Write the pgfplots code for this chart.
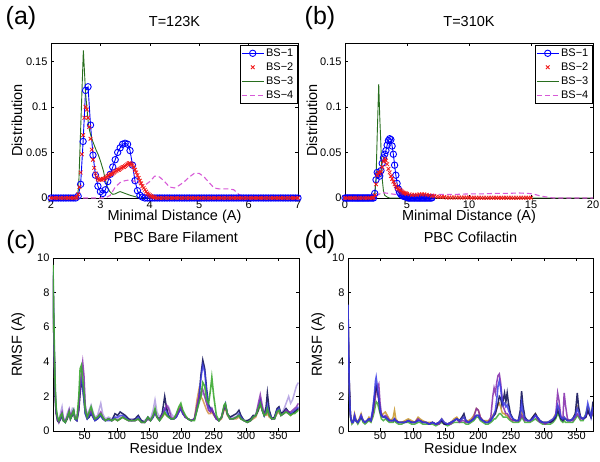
\documentclass[border=0pt]{standalone}
\usepackage{fontspec}
\setmainfont{Liberation Sans}
\usepackage{pgfplots}
\pgfplotsset{compat=1.18}
\usepackage{pgfplotstable}

\definecolor{bsblue}{rgb}{0,0,1}
\definecolor{bsred}{rgb}{0.95,0.1,0.1}
\definecolor{bsgreen}{RGB}{40,110,30}
\definecolor{bsmag}{RGB}{215,90,215}
\definecolor{cnavy}{RGB}{20,20,90}
\definecolor{cblue}{RGB}{60,60,230}
\definecolor{cpurple}{RGB}{130,40,170}
\definecolor{clav}{RGB}{175,155,225}
\definecolor{corange}{RGB}{210,140,60}
\definecolor{cgreen}{RGB}{60,170,50}
\definecolor{cgold}{RGB}{200,150,40}

\pgfplotstableread{
x n u p l o g
1 9.0 9.2 8.8 9.4 9.0 9.6
2 6.0 6.5 6.2 6.8 6.0 7.0
3 4.0 4.5 4.2 4.8 4.2 5.0
4 2.5 2.8 2.6 3.0 2.6 3.2
5 1.5 1.7 1.6 1.9 1.6 2.0
6 1.0 1.1 1.1 1.2 1.0 1.3
8 0.6 0.65 0.7 0.75 0.6 0.8
10 0.5 0.55 0.5 0.6 0.55 0.6
13 0.7 0.8 0.9 1.1 0.8 0.9
15 0.9 1.0 1.1 1.4 0.9 1.0
17 0.6 0.6 0.7 0.8 0.6 0.6
20 0.5 0.5 0.55 0.6 0.5 0.5
23 0.7 0.8 0.8 1.0 0.7 0.8
26 1.1 1.0 1.2 1.3 1.0 1.1
28 0.7 0.7 0.8 0.9 0.7 0.7
31 0.9 1.0 1.1 1.3 1.0 1.0
33 1.1 1.2 1.2 1.2 1.1 1.2
35 0.7 0.7 0.8 0.8 0.7 0.7
38 0.6 0.6 0.7 0.7 0.6 0.7
41 1.2 1.5 1.3 1.5 1.4 2.0
43 2.2 2.8 2.6 2.5 2.4 3.6
45 2.8 3.0 3.4 3.2 2.8 3.8
47 2.6 2.4 4.0 3.6 2.5 3.0
49 1.8 1.8 3.2 2.8 1.9 2.2
51 1.0 1.0 1.4 1.5 1.1 1.2
54 0.7 0.7 0.8 0.9 0.8 0.8
57 0.8 0.9 1.0 1.2 1.0 1.1
60 1.0 1.1 1.2 1.5 1.1 1.4
63 0.8 0.8 0.9 1.1 0.9 1.0
66 0.6 0.6 0.7 0.8 0.7 0.7
70 0.7 0.7 0.8 0.9 0.7 0.8
75 0.9 0.9 1.1 1.6 1.0 1.0
78 0.7 0.7 0.8 1.0 0.8 0.8
82 0.6 0.6 0.6 0.7 0.6 0.6
87 0.7 0.6 0.7 0.8 0.7 0.7
92 0.6 0.6 0.6 0.7 0.6 0.6
97 1.0 0.8 0.7 0.8 0.7 0.7
101 0.9 0.8 0.6 0.7 0.6 0.6
105 1.1 0.9 0.7 0.8 0.7 0.7
109 1.0 0.9 0.8 0.9 0.8 0.8
113 0.9 0.8 0.7 0.8 0.7 0.7
118 0.7 0.6 0.6 0.7 0.6 0.6
123 0.6 0.6 0.6 0.7 0.6 0.6
128 0.7 0.6 0.6 0.7 0.6 0.6
133 0.9 0.8 0.7 0.7 0.7 0.7
138 0.6 0.5 0.5 0.6 0.5 0.5
143 0.5 0.5 0.5 0.6 0.5 0.5
148 0.8 0.7 0.7 0.8 0.7 0.8
152 0.6 0.6 0.6 0.7 0.6 0.6
156 0.8 0.8 0.9 1.2 0.8 0.9
159 1.1 1.1 1.2 1.8 1.1 1.3
162 0.8 0.8 0.8 1.1 0.8 0.8
166 0.7 0.6 0.7 0.8 0.6 0.6
170 1.0 0.9 0.9 1.0 0.8 0.8
174 2.0 1.3 1.2 1.3 1.0 1.1
177 1.3 1.1 1.5 1.2 0.9 0.9
180 0.9 0.8 1.3 1.4 0.8 0.8
184 0.7 0.7 0.8 1.0 0.7 0.7
188 0.7 0.7 0.7 0.8 0.7 0.7
192 0.8 0.8 0.9 0.9 0.9 1.0
196 1.1 1.1 1.2 1.2 1.3 1.4
199 1.3 1.3 1.4 1.4 1.4 1.6
202 1.0 1.0 1.1 1.1 1.1 1.2
206 0.8 0.8 0.8 0.8 0.8 0.9
210 0.7 0.7 0.7 0.7 0.7 0.7
215 0.6 0.6 0.6 0.6 0.6 0.6
220 0.7 0.7 0.7 0.7 0.7 0.6
224 1.2 1.3 1.5 1.4 1.8 1.2
227 1.8 2.0 2.0 1.8 2.4 1.6
230 3.2 3.0 2.2 2.0 2.0 2.0
233 4.1 3.8 2.4 2.2 1.8 2.8
236 3.6 3.4 2.0 2.0 1.5 2.6
239 2.4 2.2 1.6 1.6 1.2 1.8
242 1.5 1.4 1.2 1.2 1.0 1.6
245 1.3 1.2 1.1 1.1 1.0 2.4
247 1.2 1.3 1.3 1.2 1.1 3.1
250 1.0 1.0 1.0 1.0 0.9 2.0
254 0.7 0.7 0.7 0.7 0.7 0.9
258 0.6 0.6 0.6 0.6 0.6 0.6
262 0.8 0.8 0.8 0.8 0.7 0.8
266 1.3 1.4 1.4 1.3 1.2 1.5
268 1.5 1.6 1.5 1.4 1.3 1.6
271 1.0 1.0 1.0 1.0 0.9 1.0
275 0.8 0.7 0.7 0.8 0.7 0.7
280 0.9 0.7 0.7 0.8 0.7 0.7
285 1.0 0.8 0.8 0.8 0.7 0.8
289 1.2 1.0 0.9 0.9 0.8 0.9
292 0.9 0.8 0.7 0.8 0.7 0.7
297 0.6 0.6 0.6 0.6 0.6 0.6
302 0.6 0.5 0.5 0.6 0.5 0.5
307 0.7 0.6 0.6 0.6 0.6 0.6
311 0.9 0.8 0.8 0.8 0.7 0.8
315 0.9 0.9 0.9 0.9 0.8 0.9
319 1.2 1.4 1.6 1.3 1.2 1.3
322 1.7 1.8 2.1 1.7 1.5 1.6
325 1.2 1.3 1.5 1.3 1.2 1.2
328 0.9 0.9 1.0 0.9 0.9 0.9
331 1.4 1.1 1.0 1.0 0.9 1.0
333 2.2 1.5 1.2 1.2 1.0 1.3
336 1.2 1.0 0.9 0.9 0.8 0.9
340 0.7 0.7 0.7 0.7 0.7 0.7
344 0.8 0.7 0.7 0.8 0.7 0.7
348 1.3 1.2 1.1 1.2 1.0 1.1
351 1.4 1.3 1.2 1.3 1.1 1.2
354 1.0 0.9 0.9 1.0 0.9 0.9
358 1.1 1.0 1.0 1.2 1.0 1.0
362 1.3 1.2 1.2 1.6 1.1 1.1
366 1.1 1.0 1.1 2.0 1.0 1.0
369 1.0 1.0 1.1 1.6 0.9 0.9
372 1.0 1.1 1.2 1.8 1.0 1.0
375 1.1 1.2 1.3 2.2 1.1 1.0
378 1.2 1.3 1.4 2.6 1.2 1.1
381 1.3 1.4 1.6 2.8 1.3 1.2
}\tabc

\pgfplotstableread{
x o g p n u
1 7.0 6.8 7.0 7.2 7.3
2 4.4 4.0 4.3 4.5 4.5
3 2.6 2.3 2.5 2.6 2.6
4 1.4 1.2 1.3 1.4 1.4
5 0.8 0.7 0.8 0.8 0.8
7 0.5 0.4 0.5 0.5 0.5
9 0.6 0.5 0.5 0.5 0.5
11 1.0 0.8 0.9 0.8 0.9
13 0.7 0.6 0.6 0.6 0.6
16 0.5 0.4 0.5 0.5 0.5
19 0.8 0.6 0.7 0.7 0.7
21 1.0 0.8 0.9 0.8 0.9
24 0.6 0.5 0.6 0.6 0.6
27 0.5 0.4 0.5 0.5 0.5
30 0.6 0.5 0.6 0.6 0.6
33 0.8 0.6 0.7 0.7 0.7
36 0.6 0.5 0.6 0.6 0.6
39 1.0 0.8 1.0 1.2 1.3
41 1.6 1.1 1.5 1.9 2.0
43 2.2 1.5 2.0 2.4 2.9
44 2.4 1.7 2.3 2.6 3.1
46 2.3 1.6 2.5 2.3 2.5
48 1.8 1.3 2.7 1.8 1.9
50 1.2 1.0 1.6 1.1 1.2
52 0.9 0.7 1.0 0.9 0.9
55 1.0 0.6 0.8 0.8 0.8
58 1.1 0.7 0.9 0.8 0.8
61 0.9 0.6 0.8 0.7 0.7
64 0.7 0.5 0.6 0.6 0.6
67 0.6 0.5 0.6 0.6 0.6
70 0.8 0.5 0.6 0.6 0.6
72 1.2 0.6 0.7 0.7 0.7
74 0.7 0.5 0.6 0.6 0.6
78 0.5 0.4 0.5 0.5 0.5
83 0.5 0.4 0.5 0.5 0.5
88 0.6 0.5 0.5 0.5 0.5
93 0.7 0.5 0.6 0.6 0.6
98 0.6 0.4 0.5 0.5 0.5
103 0.5 0.4 0.5 0.5 0.5
108 0.8 0.5 0.7 0.6 0.6
111 0.7 0.5 0.6 0.6 0.6
115 0.6 0.4 0.5 0.5 0.5
120 0.5 0.4 0.5 0.5 0.5
125 0.5 0.4 0.4 0.4 0.4
130 0.5 0.4 0.5 0.5 0.5
135 0.4 0.3 0.4 0.4 0.4
140 0.5 0.4 0.4 0.5 0.5
144 0.7 0.5 0.6 0.6 0.7
148 0.5 0.4 0.4 0.4 0.5
153 0.4 0.3 0.4 0.4 0.4
158 0.5 0.4 0.4 0.5 0.5
163 0.7 0.5 0.6 0.6 0.6
167 0.8 0.5 0.7 0.7 0.7
171 0.6 0.5 0.5 0.6 0.6
175 0.7 0.5 0.6 0.8 0.7
178 0.8 0.5 0.6 1.0 0.8
181 0.6 0.4 0.5 0.6 0.6
185 0.6 0.4 0.5 0.5 0.5
189 0.7 0.5 0.6 0.6 0.6
193 0.9 0.6 0.8 0.7 0.7
197 1.3 0.8 1.3 0.9 0.9
200 1.2 0.8 1.2 0.9 0.9
203 0.8 0.6 0.8 0.7 0.7
207 0.6 0.5 0.6 0.6 0.6
211 0.6 0.4 0.5 0.5 0.5
215 0.6 0.4 0.5 0.5 0.5
219 0.7 0.5 0.8 0.6 0.6
222 0.9 0.6 2.0 0.8 0.8
224 1.0 0.7 2.5 0.9 1.0
226 1.1 0.7 2.2 1.0 1.2
228 1.3 0.8 2.8 1.3 1.8
230 1.5 0.9 3.2 1.6 2.6
232 1.6 1.0 3.3 2.0 2.9
234 1.4 1.0 2.8 1.9 2.5
236 1.1 0.9 2.0 1.5 1.8
238 1.0 0.8 1.4 1.8 1.5
240 1.0 0.8 1.2 2.2 1.6
242 0.9 0.8 1.0 1.7 1.4
244 0.9 0.8 1.0 2.2 1.5
246 0.8 0.7 0.9 1.6 1.2
249 0.7 0.6 0.7 1.0 0.9
253 0.6 0.5 0.6 0.7 0.7
257 0.6 0.5 0.6 0.6 0.6
261 0.6 0.5 0.6 0.6 0.6
264 0.8 0.6 0.7 1.2 0.9
266 1.1 0.8 0.9 2.3 1.6
268 0.9 0.7 0.8 1.5 1.1
271 0.7 0.5 0.6 0.8 0.7
275 0.6 0.5 0.6 0.6 0.6
279 0.6 0.5 0.6 0.6 0.6
283 0.8 0.6 0.7 0.8 0.7
287 1.0 0.7 0.9 1.0 0.9
290 0.8 0.6 0.7 0.8 0.8
294 0.6 0.5 0.5 0.6 0.6
298 0.5 0.4 0.5 0.5 0.5
302 0.5 0.4 0.4 0.5 0.5
306 0.5 0.4 0.5 0.5 0.5
310 0.6 0.4 0.5 0.5 0.6
314 0.7 0.5 0.6 0.6 0.7
318 1.0 0.7 0.9 0.8 0.9
321 1.4 1.0 2.2 1.2 1.5
323 1.2 0.9 1.8 1.0 1.3
326 0.8 0.6 0.8 0.7 0.8
329 0.7 0.5 0.7 0.6 0.7
331 0.8 0.6 2.2 0.7 0.8
333 0.7 0.5 1.5 0.7 0.7
336 0.6 0.5 0.7 0.6 0.6
340 0.6 0.5 0.6 0.6 0.6
344 0.7 0.5 0.6 0.7 0.7
348 1.0 0.7 0.8 1.0 0.9
351 1.4 0.9 1.0 2.2 1.3
353 1.2 0.8 0.9 1.4 1.1
356 0.8 0.6 0.7 0.8 0.8
360 0.7 0.6 0.7 0.7 0.7
364 0.9 1.0 0.8 0.8 0.9
367 1.3 1.4 1.1 1.2 1.6
369 1.1 1.2 1.0 1.0 1.3
372 0.8 0.8 0.8 0.8 0.8
375 1.2 1.0 1.1 1.7 1.4
}\tabd

\pgfplotsset{
  myax/.style={scale only axis, tick align=inside, major tick length=3pt,
    /pgf/number format/assume math mode=true,
    tick label style={font=\fontsize{11}{12}\selectfont},
    xticklabel style={inner sep=1pt},
    label style={font=\fontsize{14.5}{17}\selectfont},
    title style={font=\fontsize{14.5}{17}\selectfont, anchor=center},
    axis line style={line width=0.6pt},
    every tick/.style={black, line width=0.5pt}},
  distax/.style={myax, width=247pt, height=155pt, clip=false,
    xticklabel style={inner sep=2.5pt},
    ymin=0, ymax=0.17, ytick={0,0.05,0.1,0.15}, yticklabels={0,0.05,0.1,0.15},
    scaled y ticks=false,
    xlabel={Minimal Distance (A)}, ylabel={Distribution},
    xlabel style={at={(axis description cs:0.5,-0.122)}, anchor=center},
    legend image code/.code={\draw[mark repeat=2,mark phase=2,##1] plot coordinates {(0cm,0cm) (0.38cm,0cm) (0.76cm,0cm)};},
    legend style={at={(1,1)}, anchor=north east, xshift=-1pt, yshift=-2pt,
      font=\fontsize{11}{12}\selectfont, inner sep=1.5pt, row sep=0.8pt,
      draw=black, cells={anchor=west}}},
  rmsfax/.style={myax, width=246pt, height=173pt,
    ymin=0, ymax=10, ytick={0,2,4,6,8,10},
    xtick={50,100,150,200,250,300,350},
    xlabel={Residue Index}, ylabel={RMSF (A)},
    xlabel style={at={(axis description cs:0.5,-0.1)}, anchor=center},
    title style={at={(0.5,1.087)}}},
}

\begin{document}
\begin{tikzpicture}
\path[use as bounding box] (0,0) rectangle (600pt,462pt);

% ---------------- (a)
\begin{axis}[distax, at={(51pt,264pt)}, anchor=south west,
  xmin=2, xmax=7, xtick={2,3,4,5,6,7},
  title={T=123K}, title style={at={(0.5,1.097)}},
  ylabel style={at={(axis description cs:-0.138,0.5)}, anchor=center}]
\addplot[bsblue, line width=0.9pt, mark=o, mark size=3.2pt, mark options={line width=0.9pt}] coordinates {
(2.00,0)(2.05,0)(2.10,0)(2.15,0)(2.20,0)(2.25,0)(2.30,0)(2.35,0)(2.40,0)(2.45,0)(2.50,0)
(2.55,0.002)(2.60,0.015)(2.65,0.062)(2.70,0.118)(2.75,0.122)(2.80,0.080)(2.85,0.047)(2.90,0.025)
(2.95,0.013)(3.00,0.007)(3.05,0.005)(3.10,0.009)(3.15,0.018)(3.20,0.026)(3.25,0.034)(3.30,0.042)
(3.35,0.050)(3.40,0.055)(3.45,0.059)(3.50,0.060)(3.55,0.059)(3.60,0.052)(3.65,0.036)(3.70,0.019)
(3.75,0.008)(3.80,0.003)(3.85,0.001)(3.90,0)(3.95,0)(4.00,0)
(4.05,0)(4.10,0)(4.15,0)(4.20,0)(4.25,0)(4.30,0)(4.35,0)(4.40,0)(4.45,0)(4.50,0)
(4.55,0)(4.60,0)(4.65,0)(4.70,0)(4.75,0)(4.80,0)(4.85,0)(4.90,0)(4.95,0)(5.00,0)
(5.05,0)(5.10,0)(5.15,0)(5.20,0)(5.25,0)(5.30,0)(5.35,0)(5.40,0)(5.45,0)(5.50,0)
(5.55,0)(5.60,0)(5.65,0)(5.70,0)(5.75,0)(5.80,0)(5.85,0)(5.90,0)(5.95,0)(6.00,0)
(6.05,0)(6.10,0)(6.15,0)(6.20,0)(6.25,0)(6.30,0)(6.35,0)(6.40,0)(6.45,0)(6.50,0)
(6.55,0)(6.60,0)(6.65,0)(6.70,0)(6.75,0)(6.80,0)(6.85,0)(6.90,0)(6.95,0)(7.00,0)};
\addlegendentry{BS−1}
\addplot[bsred, only marks, mark=x, mark size=2.6pt, mark options={line width=0.8pt}] coordinates {
(2.00,0)(2.05,0)(2.10,0)(2.15,0)(2.20,0)(2.25,0)(2.30,0)(2.35,0)(2.40,0)(2.45,0)
(2.500,0)(2.525,0.001)(2.550,0.004)(2.575,0.012)(2.600,0.028)(2.625,0.048)(2.650,0.069)(2.675,0.088)
(2.700,0.100)(2.725,0.097)(2.750,0.088)(2.775,0.078)(2.800,0.065)(2.825,0.053)(2.850,0.042)(2.875,0.033)
(2.900,0.027)(2.925,0.023)(2.950,0.021)(2.975,0.020)(3.000,0.020)(3.025,0.020)(3.050,0.021)(3.075,0.021)
(3.100,0.022)(3.125,0.023)(3.150,0.024)(3.175,0.025)(3.200,0.026)(3.225,0.026)(3.250,0.027)(3.275,0.028)
(3.300,0.029)(3.325,0.030)(3.350,0.031)(3.375,0.031)(3.400,0.032)(3.425,0.033)(3.450,0.034)(3.475,0.034)
(3.500,0.035)(3.525,0.036)(3.550,0.037)(3.575,0.038)(3.600,0.038)(3.625,0.037)(3.650,0.036)(3.675,0.034)
(3.700,0.031)(3.725,0.028)(3.750,0.025)(3.775,0.022)(3.800,0.019)(3.825,0.016)(3.850,0.013)(3.875,0.011)
(3.900,0.009)(3.925,0.007)(3.950,0.005)(3.975,0.004)(4.000,0.003)(4.025,0.002)(4.050,0.0015)(4.075,0.001)
(4.100,0.0005)
(4.15,0)(4.20,0)(4.25,0)(4.30,0)(4.35,0)(4.40,0)(4.45,0)(4.50,0)
(4.55,0)(4.60,0)(4.65,0)(4.70,0)(4.75,0)(4.80,0)(4.85,0)(4.90,0)(4.95,0)(5.00,0)
(5.05,0)(5.10,0)(5.15,0)(5.20,0)(5.25,0)(5.30,0)(5.35,0)(5.40,0)(5.45,0)(5.50,0)
(5.55,0)(5.60,0)(5.65,0)(5.70,0)(5.75,0)(5.80,0)(5.85,0)(5.90,0)(5.95,0)(6.00,0)
(6.05,0)(6.10,0)(6.15,0)(6.20,0)(6.25,0)(6.30,0)(6.35,0)(6.40,0)(6.45,0)(6.50,0)
(6.55,0)(6.60,0)(6.65,0)(6.70,0)(6.75,0)(6.80,0)(6.85,0)(6.90,0)(6.95,0)(7.00,0)};
\addlegendentry{BS−2}
\addplot[bsgreen, line width=0.9pt] coordinates {
(2,0)(2.5,0)(2.53,0.001)(2.56,0.012)(2.60,0.075)(2.655,0.162)(2.70,0.115)(2.75,0.085)(2.78,0.074)
(2.82,0.066)(2.86,0.060)(2.91,0.053)(2.96,0.047)(3.01,0.039)(3.06,0.030)(3.10,0.020)(3.14,0.012)
(3.19,0.007)(3.25,0.004)(3.30,0.0045)(3.35,0.006)(3.40,0.007)(3.45,0.006)(3.50,0.005)(3.60,0.003)
(3.70,0.0015)(3.80,0)(7,0)};
\addlegendentry{BS−3}
\addplot[bsmag, line width=1.1pt, dash pattern=on 5pt off 3pt] coordinates {
(2,0)(3.1,0)(3.2,0.003)(3.3,0.012)(3.4,0.017)(3.5,0.019)(3.6,0.020)(3.7,0.018)(3.8,0.015)(3.9,0.014)
(4.0,0.018)(4.1,0.024)(4.2,0.023)(4.3,0.018)(4.4,0.012)(4.5,0.011)(4.6,0.014)(4.7,0.018)(4.8,0.023)
(4.9,0.027)(5.0,0.027)(5.1,0.023)(5.2,0.017)(5.3,0.011)(5.4,0.010)(5.5,0.010)(5.6,0.010)(5.7,0.009)
(5.8,0.004)(5.9,0.001)(6.0,0)(7,0)};
\addlegendentry{BS−4}
\end{axis}

% ---------------- (b)
\begin{axis}[distax, at={(345pt,264pt)}, anchor=south west, width=248pt,
  xmin=0, xmax=20, xtick={0,5,10,15,20},
  title={T=310K}, title style={at={(0.5,1.097)}},
  ylabel style={at={(axis description cs:-0.133,0.5)}, anchor=center}]
\addplot[bsblue, line width=0.9pt, mark=o, mark size=3.2pt, mark options={line width=0.9pt}] coordinates {
(0.0,0)(0.1,0)(0.2,0)(0.3,0)(0.4,0)(0.5,0)(0.6,0)(0.7,0)(0.8,0)(0.9,0)(1.0,0)(1.1,0)
(1.2,0)(1.3,0)(1.4,0)(1.5,0)(1.6,0)(1.7,0)(1.8,0)(1.9,0)(2.0,0)(2.1,0)(2.2,0)(2.3,0)
(2.4,0.005)(2.5,0.020)(2.6,0.028)(2.7,0.026)(2.8,0.024)(2.9,0.030)(3.0,0.038)(3.1,0.044)(3.2,0.048)
(3.3,0.052)(3.4,0.058)(3.5,0.063)(3.6,0.065)(3.7,0.064)(3.8,0.057)(3.9,0.048)(4.0,0.036)(4.1,0.025)
(4.2,0.016)(4.3,0.010)(4.4,0.006)(4.5,0.004)(4.6,0.003)(4.7,0.002)(4.8,0.0015)(4.9,0.001)(5.0,0.001)
(5.1,0)(5.2,0)(5.3,0)(5.4,0)(5.5,0)(5.6,0)(5.7,0)(5.8,0)(5.9,0)(6.0,0)
(6.1,0)(6.2,0)(6.3,0)(6.4,0)(6.5,0)(6.6,0)(6.7,0)(6.8,0)(6.9,0)(7.0,0)};
\addlegendentry{BS−1}
\addplot[bsred, only marks, mark=x, mark size=2.6pt, mark options={line width=0.8pt}] coordinates {
(0.0,0)(0.2,0)(0.4,0)(0.6,0)(0.8,0)(1.0,0)(1.2,0)(1.4,0)(1.6,0)(1.8,0)(2.0,0)(2.2,0)
(2.3,0.0005)(2.4,0.003)(2.5,0.015)(2.6,0.025)(2.7,0.028)(2.8,0.027)(2.9,0.029)(3.0,0.034)(3.1,0.040)
(3.2,0.043)(3.3,0.041)(3.4,0.037)(3.5,0.032)(3.6,0.028)(3.7,0.024)(3.8,0.021)(3.9,0.018)(4.0,0.015)
(4.1,0.013)(4.2,0.011)(4.3,0.010)(4.4,0.009)(4.5,0.008)(4.6,0.007)(4.7,0.006)(4.8,0.0055)(4.9,0.005)
(5.0,0.0045)(5.2,0.004)(5.4,0.0035)(5.6,0.0035)(5.8,0.0035)(6.0,0.004)(6.2,0.004)(6.4,0.004)
(6.6,0.0035)(6.8,0.003)(7.0,0.0025)(7.2,0.002)(7.4,0.0015)(7.6,0.0012)(7.8,0.001)(8.0,0.001)
(8.2,0.0005)(8.4,0.0005)(8.6,0.0005)(8.8,0.0005)(9.0,0.0005)(9.2,0.0005)(9.4,0.0005)(9.6,0.0005)
(9.8,0.0005)(10.0,0.0005)(10.2,0.0003)(10.4,0.0003)(10.6,0.0003)(10.8,0.0003)(11.0,0.0003)
(11.2,0.0003)(11.4,0.0003)(11.6,0.0003)(11.8,0.0003)(12.0,0.0003)(12.2,0.0003)(12.4,0.0003)
(12.6,0.0003)(12.8,0.0003)(13.0,0.0003)(13.2,0.0003)(13.4,0.0003)(13.6,0.0003)(13.8,0.0003)
(14.0,0.0003)(14.2,0.0003)(14.4,0.0003)(14.6,0.0003)(14.8,0.0003)(15.0,0.0003)};
\addlegendentry{BS−2}
\addplot[bsgreen, line width=0.9pt] coordinates {
(0,0)(2.3,0)(2.4,0.003)(2.5,0.02)(2.6,0.07)(2.72,0.125)(2.8,0.09)(2.88,0.063)(2.95,0.035)(3.0,0.021)
(3.1,0.008)(3.2,0.003)(3.4,0.001)(3.6,0)(20,0)};
\addlegendentry{BS−3}
\addplot[bsmag, line width=1.1pt, dash pattern=on 5pt off 3pt] coordinates {
(0,0)(2.4,0)(2.6,0.003)(3.0,0.006)(4.0,0.004)(5.0,0.003)(6.0,0.003)(7.0,0.004)(8.0,0.004)(9.0,0.004)
(10.0,0.0045)(11.0,0.0045)(12.0,0.005)(13.0,0.005)(14.0,0.0055)(14.8,0.005)(15.3,0.004)(15.8,0.002)
(16.3,0.001)(16.8,0)(20,0)};
\addlegendentry{BS−4}
\end{axis}

% ---------------- (c)
\begin{axis}[rmsfax, at={(53pt,31pt)}, anchor=south west,
  xmin=1, xmax=382, title={PBC Bare Filament},
  ylabel style={at={(axis description cs:-0.142,0.5)}, anchor=center}]
\addplot[clav, line width=1.5pt, opacity=0.85] table[x=x,y=l]{\tabc};
\addplot[corange, line width=1.5pt, opacity=0.8] table[x=x,y=o]{\tabc};
\addplot[cnavy, line width=1.5pt, opacity=0.9] table[x=x,y=n]{\tabc};
\addplot[cblue, line width=1.5pt, opacity=0.8] table[x=x,y=u]{\tabc};
\addplot[cpurple, line width=1.5pt, opacity=0.8] table[x=x,y=p]{\tabc};
\addplot[cgreen, line width=1.6pt, opacity=0.9] table[x=x,y=g]{\tabc};
\end{axis}

% ---------------- (d)
\begin{axis}[rmsfax, at={(348pt,31pt)}, anchor=south west, width=245pt,
  xmin=1, xmax=375, title={PBC Cofilactin},
  ylabel style={at={(axis description cs:-0.122,0.5)}, anchor=center}]
\addplot[cgreen, line width=1.5pt, opacity=0.85] table[x=x,y=g]{\tabd};
\addplot[cgold, line width=1.5pt, opacity=0.85] table[x=x,y=o]{\tabd};
\addplot[cpurple, line width=1.5pt, opacity=0.85] table[x=x,y=p]{\tabd};
\addplot[cnavy, line width=1.5pt, opacity=0.9] table[x=x,y=n]{\tabd};
\addplot[cblue, line width=1.6pt, opacity=0.85] table[x=x,y=u]{\tabd};
\end{axis}

% panel letters
\node[font=\fontsize{25}{28}\selectfont] at (21pt,444pt) {(a)};
\node[font=\fontsize{25}{28}\selectfont] at (320pt,444pt) {(b)};
\node[font=\fontsize{25}{28}\selectfont] at (21pt,220pt) {(c)};
\node[font=\fontsize{25}{28}\selectfont] at (320pt,220pt) {(d)};
\end{tikzpicture}
\end{document}
